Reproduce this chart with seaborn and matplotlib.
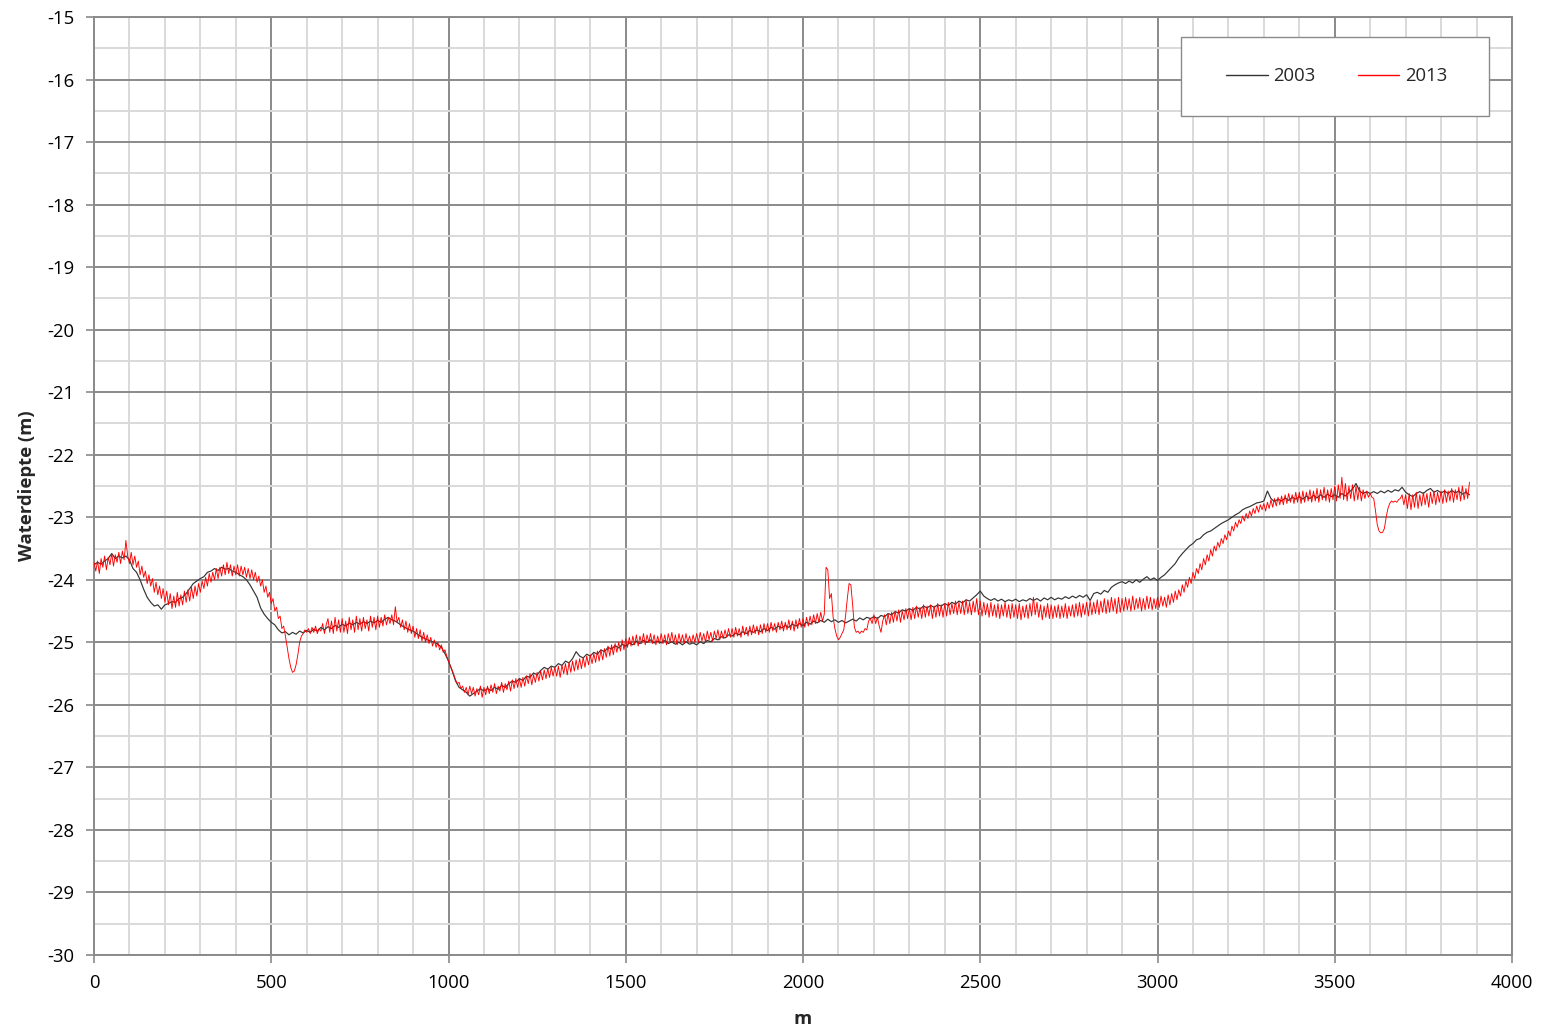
import numpy as np
import matplotlib
matplotlib.use("Agg")
import matplotlib.pyplot as plt
from matplotlib.ticker import MultipleLocator
from matplotlib.patches import Rectangle
import seaborn as sns

# ---------------- data ----------------
step_2003 = 10   # metres between samples
step_2013 = 5

depth_2003 = [
    -23.76, -23.72, -23.75, -23.70, -23.66, -23.58, -23.66, -23.62, -23.65, -23.62,
    -23.68, -23.82, -23.88, -24.00, -24.15, -24.28, -24.36, -24.42, -24.40, -24.47,
    -24.40, -24.38, -24.35, -24.36, -24.30, -24.28, -24.22, -24.14, -24.06, -24.02,
    -23.98, -23.95, -23.88, -23.86, -23.82, -23.85, -23.80, -23.83, -23.82, -23.86,
    -23.88, -23.92, -23.95, -24.00, -24.08, -24.18, -24.28, -24.45, -24.55, -24.62,
    -24.68, -24.72, -24.80, -24.85, -24.83, -24.88, -24.84, -24.87, -24.82, -24.85,
    -24.81, -24.84, -24.79, -24.82, -24.76, -24.80, -24.75, -24.78, -24.73, -24.76,
    -24.71, -24.74, -24.69, -24.72, -24.68, -24.71, -24.67, -24.70, -24.66, -24.69,
    -24.65, -24.68, -24.63, -24.60, -24.64, -24.66, -24.70, -24.74, -24.77, -24.80,
    -24.82, -24.86, -24.90, -24.93, -24.96, -24.98, -25.00, -25.03, -25.08, -25.18,
    -25.30, -25.45, -25.62, -25.72, -25.76, -25.80, -25.86, -25.82, -25.78, -25.74,
    -25.78, -25.74, -25.77, -25.72, -25.75, -25.69, -25.72, -25.66, -25.62, -25.64,
    -25.58, -25.61, -25.54, -25.56, -25.49, -25.52, -25.45, -25.40, -25.43, -25.38,
    -25.40, -25.34, -25.37, -25.30, -25.33, -25.26, -25.15, -25.22, -25.25, -25.19,
    -25.22, -25.16, -25.19, -25.12, -25.15, -25.08, -25.11, -25.05, -25.09, -25.03,
    -25.06, -25.01, -25.04, -24.98, -25.02, -24.97, -25.00, -24.96, -25.01, -24.98,
    -25.01, -24.97, -25.02, -24.99, -25.03, -25.00, -25.04, -24.99, -25.03, -25.01,
    -25.04, -24.99, -25.02, -24.97, -24.99, -24.94, -24.96, -24.91, -24.93, -24.88,
    -24.90, -24.85, -24.88, -24.83, -24.86, -24.81, -24.84, -24.80, -24.83, -24.78,
    -24.81, -24.76, -24.79, -24.74, -24.77, -24.73, -24.76, -24.71, -24.74, -24.70,
    -24.73, -24.68, -24.71, -24.66, -24.69, -24.65, -24.68, -24.63, -24.67, -24.64,
    -24.68, -24.65, -24.69, -24.66, -24.63, -24.66, -24.61, -24.64, -24.60, -24.62,
    -24.59, -24.62, -24.57, -24.59, -24.54, -24.56, -24.51, -24.53, -24.48, -24.50,
    -24.46, -24.49, -24.44, -24.47, -24.42, -24.45, -24.41, -24.44, -24.40, -24.42,
    -24.38, -24.41, -24.36, -24.39, -24.34, -24.37, -24.32, -24.34, -24.29, -24.24,
    -24.18, -24.26, -24.30, -24.33, -24.30, -24.34, -24.31, -24.35, -24.32, -24.34,
    -24.31, -24.35, -24.32, -24.34, -24.30, -24.33, -24.30, -24.34, -24.29, -24.32,
    -24.28, -24.32, -24.29, -24.31, -24.27, -24.30, -24.26, -24.29, -24.25, -24.28,
    -24.24, -24.33, -24.22, -24.20, -24.23, -24.17, -24.20, -24.12, -24.08, -24.05,
    -24.03, -24.06, -24.02, -24.05, -24.00, -24.04, -23.99, -23.95, -24.00, -23.97,
    -24.01, -23.96, -23.92, -23.86, -23.80, -23.74, -23.65, -23.58, -23.52, -23.46,
    -23.42, -23.36, -23.34, -23.28, -23.24, -23.22, -23.18, -23.14, -23.10, -23.07,
    -23.04, -23.00, -22.96, -22.93, -22.88, -22.85, -22.83, -22.80, -22.77, -22.76,
    -22.74, -22.58, -22.70, -22.75, -22.71, -22.74, -22.69, -22.73, -22.68, -22.71,
    -22.67, -22.71, -22.66, -22.70, -22.65, -22.69, -22.64, -22.68, -22.63, -22.67,
    -22.64, -22.68, -22.62, -22.66, -22.60, -22.55, -22.46, -22.58, -22.62, -22.59,
    -22.62, -22.59, -22.62, -22.58, -22.61, -22.57, -22.60, -22.56, -22.58, -22.52,
    -22.60, -22.64, -22.67, -22.62, -22.59, -22.62, -22.57, -22.54, -22.60, -22.57,
    -22.61, -22.58, -22.62, -22.57, -22.61, -22.58, -22.63, -22.60, -22.64,
]

depth_2013 = [
    -23.72, -23.86, -23.70, -23.90, -23.66, -23.80, -23.62, -23.84, -23.64, -23.76,
    -23.58, -23.78, -23.60, -23.72, -23.56, -23.74, -23.54, -23.68, -23.37, -23.62,
    -23.74, -23.56, -23.76, -23.62, -23.80, -23.70, -23.92, -23.78, -23.96, -23.86,
    -24.06, -23.92, -24.10, -23.98, -24.20, -24.04, -24.24, -24.10, -24.30, -24.14,
    -24.36, -24.18, -24.40, -24.22, -24.46, -24.26, -24.44, -24.20, -24.42, -24.24,
    -24.40, -24.18, -24.36, -24.16, -24.34, -24.12, -24.30, -24.10, -24.26, -24.06,
    -24.20, -24.02, -24.14, -23.96, -24.10, -23.90, -24.04, -23.88, -24.00, -23.82,
    -23.98, -23.80, -23.94, -23.76, -23.92, -23.72, -23.90, -23.76, -23.94, -23.78,
    -23.92, -23.76, -23.94, -23.78, -23.92, -23.80, -23.96, -23.82, -23.98, -23.84,
    -24.00, -23.88, -24.04, -23.94, -24.10, -24.00, -24.20, -24.10, -24.28, -24.20,
    -24.38, -24.30, -24.50, -24.44, -24.62, -24.58, -24.78, -24.74, -24.90, -25.08,
    -25.26, -25.40, -25.48, -25.46, -25.36, -25.20, -25.00, -24.90, -24.86, -24.80,
    -24.84, -24.78, -24.86, -24.76, -24.84, -24.74, -24.86, -24.78, -24.82, -24.70,
    -24.86, -24.72, -24.62, -24.84, -24.66, -24.86, -24.60, -24.82, -24.64, -24.84,
    -24.62, -24.84, -24.66, -24.86, -24.60, -24.80, -24.64, -24.84, -24.58, -24.80,
    -24.62, -24.82, -24.60, -24.78, -24.64, -24.82, -24.58, -24.76, -24.60, -24.80,
    -24.58, -24.76, -24.60, -24.74, -24.56, -24.72, -24.60, -24.70, -24.56, -24.72,
    -24.43, -24.68, -24.60, -24.76, -24.64, -24.80, -24.66, -24.84, -24.70, -24.86,
    -24.74, -24.92, -24.78, -24.94, -24.80, -24.98, -24.84, -25.00, -24.88, -25.02,
    -24.92, -25.06, -24.96, -25.08, -25.00, -25.12, -25.04, -25.16, -25.12, -25.22,
    -25.30, -25.38, -25.44, -25.52, -25.60, -25.66, -25.64, -25.74, -25.70, -25.80,
    -25.72, -25.84, -25.70, -25.82, -25.72, -25.86, -25.74, -25.84, -25.70, -25.88,
    -25.72, -25.84, -25.70, -25.82, -25.68, -25.80, -25.66, -25.82, -25.70, -25.78,
    -25.64, -25.80, -25.66, -25.76, -25.62, -25.78, -25.60, -25.74, -25.58, -25.72,
    -25.58, -25.72, -25.56, -25.70, -25.54, -25.66, -25.50, -25.68, -25.52, -25.64,
    -25.48, -25.62, -25.46, -25.60, -25.44, -25.58, -25.42, -25.56, -25.40, -25.54,
    -25.40, -25.54, -25.38, -25.56, -25.36, -25.50, -25.34, -25.52, -25.32, -25.48,
    -25.30, -25.46, -25.28, -25.44, -25.26, -25.42, -25.24, -25.40, -25.22, -25.36,
    -25.20, -25.34, -25.18, -25.32, -25.14, -25.30, -25.12, -25.28, -25.10, -25.24,
    -25.06, -25.22, -25.04, -25.20, -25.02, -25.16, -25.00, -25.14, -24.96, -25.12,
    -24.94, -25.08, -24.92, -25.06, -24.90, -25.04, -24.88, -25.06, -24.90, -25.02,
    -24.86, -25.04, -24.88, -25.00, -24.86, -25.02, -24.88, -25.04, -24.90, -25.02,
    -24.86, -25.02, -24.88, -25.04, -24.86, -25.00, -24.84, -25.02, -24.88, -25.04,
    -24.86, -25.00, -24.88, -25.02, -24.86, -25.00, -24.90, -25.02, -24.88, -25.00,
    -24.86, -25.00, -24.84, -24.98, -24.86, -25.00, -24.82, -24.96, -24.84, -24.98,
    -24.82, -24.94, -24.80, -24.96, -24.82, -24.94, -24.80, -24.92, -24.78, -24.92,
    -24.78, -24.92, -24.76, -24.90, -24.78, -24.92, -24.74, -24.88, -24.76, -24.90,
    -24.74, -24.88, -24.72, -24.86, -24.74, -24.88, -24.72, -24.86, -24.70, -24.84,
    -24.70, -24.84, -24.68, -24.82, -24.70, -24.84, -24.68, -24.80, -24.66, -24.82,
    -24.68, -24.80, -24.64, -24.80, -24.66, -24.82, -24.64, -24.78, -24.62, -24.76,
    -24.62, -24.76, -24.60, -24.74, -24.58, -24.72, -24.56, -24.70, -24.54, -24.68,
    -24.52, -24.66, -24.55, -23.80, -23.84, -24.30, -24.22, -24.60, -24.78, -24.90,
    -24.96, -24.92, -24.86, -24.80, -24.58, -24.30, -24.06, -24.08, -24.40, -24.76,
    -24.84, -24.82, -24.86, -24.82, -24.84, -24.78, -24.80, -24.66, -24.62, -24.70,
    -24.56, -24.70, -24.60, -24.74, -24.84, -24.66, -24.56, -24.72, -24.54, -24.70,
    -24.52, -24.68, -24.50, -24.66, -24.48, -24.68, -24.50, -24.64, -24.46, -24.62,
    -24.46, -24.64, -24.44, -24.62, -24.42, -24.60, -24.44, -24.62, -24.40, -24.60,
    -24.42, -24.58, -24.40, -24.62, -24.42, -24.60, -24.38, -24.58, -24.40, -24.60,
    -24.38, -24.58, -24.36, -24.56, -24.38, -24.54, -24.34, -24.56, -24.36, -24.54,
    -24.34, -24.56, -24.32, -24.54, -24.36, -24.56, -24.34, -24.52, -24.30, -24.56,
    -24.34, -24.58, -24.36, -24.56, -24.38, -24.60, -24.36, -24.58, -24.40, -24.60,
    -24.38, -24.62, -24.40, -24.58, -24.36, -24.60, -24.40, -24.62, -24.38, -24.60,
    -24.40, -24.62, -24.38, -24.64, -24.42, -24.60, -24.40, -24.62, -24.38, -24.58,
    -24.28, -24.56, -24.36, -24.60, -24.40, -24.64, -24.42, -24.60, -24.38, -24.62,
    -24.40, -24.62, -24.42, -24.60, -24.40, -24.62, -24.42, -24.60, -24.38, -24.62,
    -24.42, -24.58, -24.40, -24.60, -24.38, -24.58, -24.36, -24.60, -24.38, -24.56,
    -24.36, -24.58, -24.34, -24.56, -24.36, -24.54, -24.32, -24.56, -24.34, -24.52,
    -24.30, -24.54, -24.32, -24.52, -24.28, -24.50, -24.30, -24.54, -24.28, -24.52,
    -24.30, -24.50, -24.28, -24.48, -24.30, -24.50, -24.26, -24.48, -24.30, -24.46,
    -24.28, -24.50, -24.30, -24.48, -24.26, -24.46, -24.28, -24.48, -24.30, -24.46,
    -24.28, -24.44, -24.26, -24.42, -24.28, -24.44, -24.24, -24.40, -24.22, -24.36,
    -24.18, -24.32, -24.16, -24.26, -24.08, -24.20, -24.02, -24.12, -23.96, -24.06,
    -23.88, -23.98, -23.82, -23.90, -23.74, -23.84, -23.66, -23.76, -23.60, -23.70,
    -23.52, -23.62, -23.46, -23.54, -23.40, -23.48, -23.34, -23.42, -23.28, -23.36,
    -23.22, -23.30, -23.14, -23.22, -23.08, -23.16, -23.04, -23.10, -22.98, -23.06,
    -22.94, -23.02, -22.90, -22.98, -22.86, -22.94, -22.82, -22.92, -22.80, -22.88,
    -22.78, -22.90, -22.76, -22.86, -22.72, -22.84, -22.70, -22.82, -22.68, -22.80,
    -22.66, -22.80, -22.64, -22.78, -22.62, -22.76, -22.64, -22.78, -22.60, -22.76,
    -22.60, -22.78, -22.58, -22.76, -22.60, -22.74, -22.56, -22.76, -22.58, -22.74,
    -22.54, -22.76, -22.56, -22.72, -22.52, -22.74, -22.56, -22.76, -22.54, -22.72,
    -22.50, -22.74, -22.48, -22.70, -22.36, -22.72, -22.46, -22.74, -22.50, -22.70,
    -22.48, -22.74, -22.50, -22.72, -22.52, -22.74, -22.56, -22.70, -22.58, -22.68,
    -22.62, -22.68, -22.70, -22.90, -23.12, -23.22, -23.25, -23.24, -23.18, -23.00,
    -22.86, -22.78, -22.74, -22.76, -22.74, -22.76, -22.72, -22.70, -22.64, -22.80,
    -22.64, -22.86, -22.62, -22.88, -22.64, -22.84, -22.60, -22.86, -22.64, -22.82,
    -22.60, -22.80, -22.62, -22.84, -22.60, -22.78, -22.58, -22.80, -22.60, -22.76,
    -22.58, -22.78, -22.56, -22.76, -22.58, -22.74, -22.54, -22.76, -22.56, -22.72,
    -22.52, -22.74, -22.50, -22.72, -22.54, -22.70, -22.44,
]

x_2003 = np.arange(len(depth_2003)) * step_2003
x_2013 = np.arange(len(depth_2013)) * step_2013

series_labels = ["2003", "2013"]
x_ticks = list(range(0, 4001, 500))
y_ticks = list(range(-30, -14, 1))

# ---------------- style ----------------
sns.set_style("white")
plt.rcParams['font.family'] = ['Open Sans', 'DejaVu Sans']
plt.rcParams['axes.unicode_minus'] = False

major_grid = '#8a8a8a'
minor_grid = '#d9d9d9'
fs = 13.3

fig = plt.figure(figsize=(15.43, 10.28), dpi=100)
ax = fig.add_axes([94 / 1543, 1 - 955 / 1028, 1418 / 1543, 938 / 1028])

sns.lineplot(x=x_2003, y=depth_2003, ax=ax, color='#333333', lw=0.85,
             label=series_labels[0], zorder=3)
sns.lineplot(x=x_2013, y=depth_2013, ax=ax, color='#ff0000', lw=0.65,
             label=series_labels[1], zorder=4)

ax.set_xlim(0, 4000)
ax.set_ylim(-30, -15)
ax.set_xticks(x_ticks)
ax.set_yticks(y_ticks)
ax.xaxis.set_minor_locator(MultipleLocator(100))
ax.yaxis.set_minor_locator(MultipleLocator(0.5))
ax.set_axisbelow(True)
ax.grid(which='minor', color=minor_grid, lw=1.4, zorder=0)
ax.grid(which='major', color=major_grid, lw=1.4, zorder=1)

ax.tick_params(which='major', direction='out', length=6, width=1.2,
               color=major_grid, labelsize=fs, labelcolor='black', pad=8,
               left=True, bottom=True)
ax.tick_params(which='minor', length=0)
for s in ax.spines.values():
    s.set_color(major_grid)
    s.set_linewidth(1.4)

ax.set_xlabel("m", fontsize=fs, fontweight='bold', labelpad=13)
ax.set_ylabel("Waterdiepte (m)", fontsize=fs, fontweight='bold', labelpad=8)

# legend box
ax.add_patch(Rectangle((0.7666, 0.8945), 0.2172, 0.0842, transform=ax.transAxes,
                       facecolor='white', edgecolor='#8a8a8a', lw=1.0, zorder=5))
leg = ax.legend(loc='center left', bbox_to_anchor=((1226 - 94) / 1418, (955 - 76) / 938),
                ncol=2, frameon=False, fontsize=fs, borderpad=0, borderaxespad=0,
                handlelength=2.25, handletextpad=0.3, columnspacing=2.3)
leg.set_zorder(6)
for line in leg.get_lines():
    line.set_linewidth(1.0)

fig.savefig("out.png", dpi=100)
